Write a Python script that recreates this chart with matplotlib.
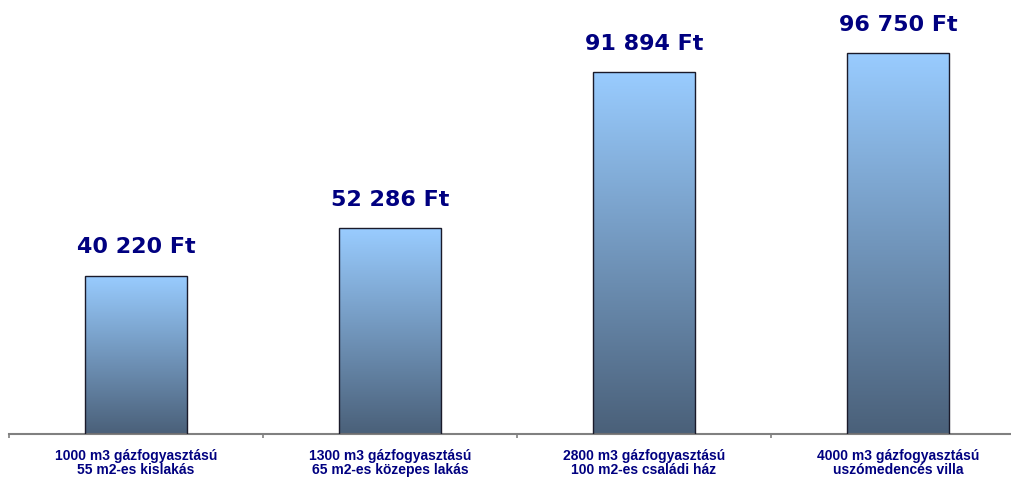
import numpy as np
import matplotlib
matplotlib.use("Agg")
import matplotlib.pyplot as plt
from matplotlib.colors import LinearSegmentedColormap

categories = [
    "1000 m3 gázfogyasztású\n55 m2-es kislakás",
    "1300 m3 gázfogyasztású\n65 m2-es közepes lakás",
    "2800 m3 gázfogyasztású\n100 m2-es családi ház",
    "4000 m3 gázfogyasztású\nuszómedencés villa",
]
costs = [40220, 52286, 91894, 96750]
cost_labels = ["40 220 Ft", "52 286 Ft", "91 894 Ft", "96 750 Ft"]

NAVY = "#000080"
plt.rcParams["font.family"] = ["DejaVu Sans"]

fig = plt.figure(figsize=(10.11, 4.78), dpi=100)
# axes runs past the right edge, as in the cropped original
ax = fig.add_axes([9 / 1011, 44 / 478, 1016 / 1011, 434 / 478])

x = np.arange(len(costs))
bars = ax.bar(x, costs, width=0.405, color="none", edgecolor="#1a1a2a",
              linewidth=1.0, zorder=3)

cmap = LinearSegmentedColormap.from_list("grad", ["#4a6079", "#99ccff"])
grad = np.linspace(0, 1, 256).reshape(-1, 1)
for b in bars:
    x0, w, h = b.get_x(), b.get_width(), b.get_height()
    im = ax.imshow(grad, cmap=cmap, origin="lower", aspect="auto",
                   extent=(x0, x0 + w, 0, h), zorder=2)
    im.set_clip_path(b)

for xi, v, lab in zip(x, costs, cost_labels):
    ax.annotate(lab, (xi, v), xytext=(0, 16), textcoords="offset points",
                ha="center", va="baseline", fontsize=16, fontweight="bold",
                color=NAVY)

ax.set_xlim(-0.5, 3.5)
ax.set_ylim(0, 110200)

for s in ["top", "right", "left"]:
    ax.spines[s].set_visible(False)
ax.spines["bottom"].set_color("#808080")
ax.spines["bottom"].set_linewidth(1.5)
ax.set_yticks([])

ax.set_xticks(x)
ax.set_xticklabels(categories, fontsize=10, fontweight="bold", color=NAVY,
                   family="Liberation Sans", linespacing=1.0)
ax.tick_params(axis="x", which="major", length=0, pad=11)
ax.set_xticks(np.arange(-0.5, 4, 1.0), minor=True)
ax.tick_params(axis="x", which="minor", length=3, width=1.2, color="#808080",
               direction="out")

fig.savefig("out.png", dpi=100)
